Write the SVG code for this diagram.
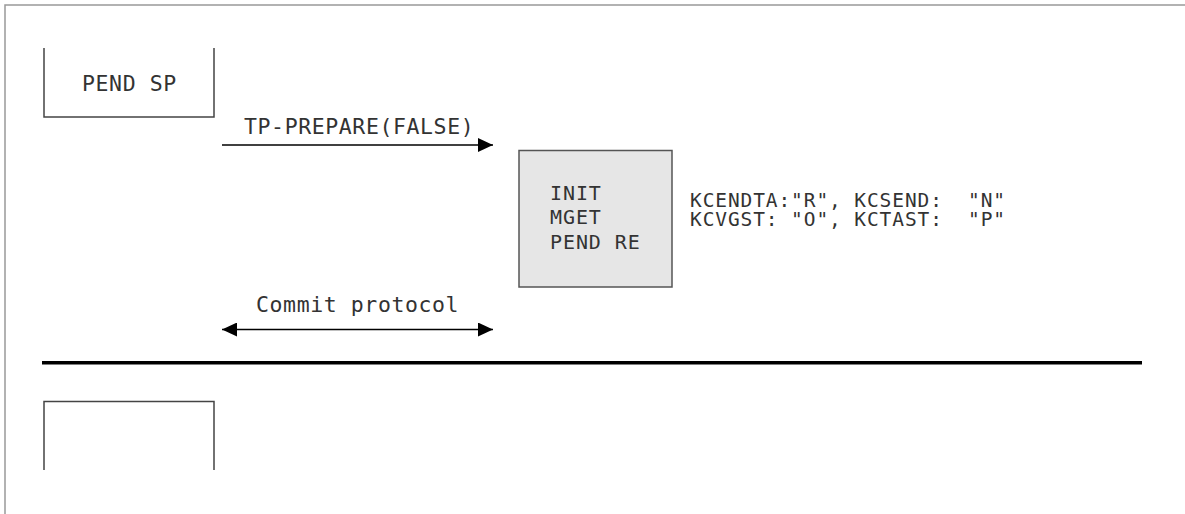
<svg xmlns="http://www.w3.org/2000/svg" width="1185" height="514" viewBox="0 0 1185 514">
<style>
text{font-family:"DejaVu Sans Mono","Liberation Mono",monospace;font-size:21.5px;letter-spacing:0.6px;fill:#333}
.sm{font-size:20px;letter-spacing:0.9px}
.kc{font-size:19.5px;letter-spacing:0.9px}
.node{fill:none;stroke:#444;stroke-width:1.5}
.conn{stroke:#000;stroke-width:1.5;fill:none}
</style>
<defs>
<marker id="ah" viewBox="0 0 15 14" refX="15" refY="7" markerWidth="15" markerHeight="14" markerUnits="userSpaceOnUse" orient="auto-start-reverse">
<path d="M0,0 L15,7 L0,14 Z" fill="#000"/>
</marker>
</defs>
<rect width="1185" height="514" fill="#fff"/>
<g id="frame">
<path d="M5,514 V5 H1185" fill="none" stroke="#999" stroke-width="1.5"/>
</g>
<g id="pend-sp">
<path class="node" d="M44,48 V117 H214 V48"/>
<text x="82" y="91">PEND SP</text>
</g>
<g id="state-box">
<rect x="519" y="150.5" width="153" height="136.5" fill="#e6e6e6" stroke="#555" stroke-width="1.5"/>
<text class="sm" x="550" y="199.5">INIT</text>
<text class="sm" x="550" y="224">MGET</text>
<text class="sm" x="550" y="248.5">PEND RE</text>
</g>
<g id="kc-values">
<text class="kc" xml:space="preserve"><tspan x="690" y="207">KCENDTA:"R", KCSEND:  "N"</tspan><tspan x="690" y="225.5">KCVGST: "O", KCTAST:  "P"</tspan></text>
</g>
<g id="bottom-box">
<path class="node" d="M44,470 V401.5 H214 V470"/>
</g>
<g id="connectors">
<line class="conn" x1="222" y1="145" x2="493" y2="145" marker-end="url(#ah)"/>
<text x="244" y="133.5">TP-PREPARE(FALSE)</text>
<line class="conn" x1="222" y1="329.5" x2="493" y2="329.5" marker-start="url(#ah)" marker-end="url(#ah)"/>
<text x="256" y="312">Commit protocol</text>
<line x1="42" y1="362.7" x2="1142" y2="362.7" stroke="#000" stroke-width="3.5"/>
</g>
</svg>
